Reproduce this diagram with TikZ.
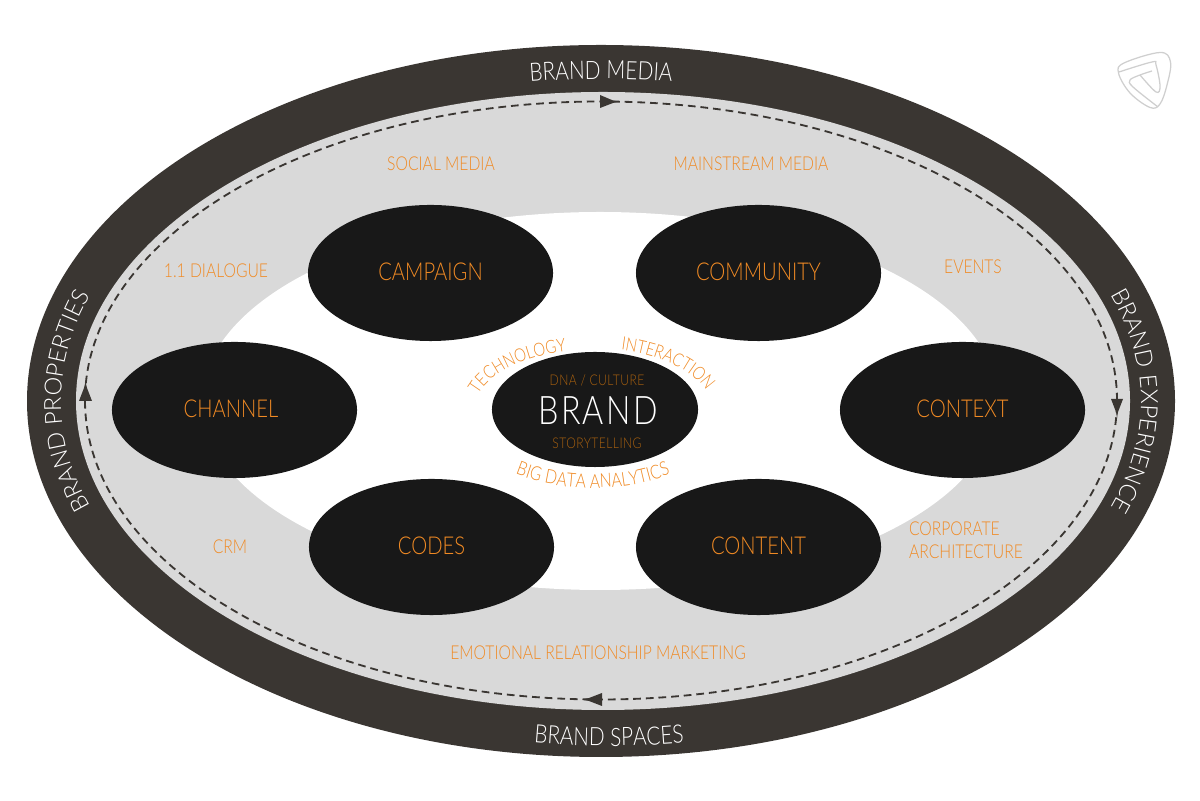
\documentclass[tikz,border=0pt]{standalone}
\usepackage{fontspec}
\setmainfont{Lato}[UprightFont=* Light, FakeStretch=0.82]
\newfontfamily\sidefam{Lato}[UprightFont=* Light]
\usetikzlibrary{shapes.geometric,decorations.text}
\definecolor{bandcol}{HTML}{3A3632}
\definecolor{ringcol}{HTML}{D9D9D9}
\definecolor{blobcol}{HTML}{181818}
\definecolor{orangecol}{HTML}{F08A24}
\definecolor{browncol}{HTML}{A9610F}
\definecolor{logocol}{HTML}{CFCFCF}
\newcommand{\bandfont}{\fontsize{18}{20}\selectfont}
\newcommand{\sidefont}{\sidefam\fontsize{16.8}{20}\selectfont}
\newcommand{\smallfont}{\fontsize{13.6}{16.6}\selectfont}
\tikzset{
    blob/.style={ellipse, fill=blobcol, inner sep=0pt, text=orangecol, text depth=1.4pt, minimum width=6.125cm, minimum height=3.4cm, font=\fontsize{17.5}{20}\selectfont},
    tag/.style={text=orangecol, inner sep=0pt, font=\smallfont},
    dimtag/.style={text=browncol, inner sep=0pt, font=\fontsize{10.5}{12}\selectfont\addfontfeature{LetterSpace=3}},
    bandtext/.style={decorate, decoration={text along path, text align=center, text={|\color{white}\bandfont|#1}}},
    sidetext/.style={decorate, decoration={text along path, text align=center, text={|\color{white}\sidefont|#1}}},
    arctext/.style={decorate, decoration={text along path, text align=center, text={|\color{orangecol}\fontsize{13}{16}\selectfont|#1}}},
    arcwide/.style={decorate, decoration={text along path, text align=center, text={|\color{orangecol}\fontsize{13.7}{16}\selectfont|#1}}},
}
\begin{document}
\begin{tikzpicture}[x=0.025cm, y=0.025cm]
    \useasboundingbox (0,0) rectangle (1200,800);
    % rings
    \fill[bandcol] (601,399) ellipse [x radius=574, y radius=356];
    \fill[ringcol] (603,399) ellipse [x radius=527, y radius=309];
    \fill[white] (600,399) ellipse [x radius=398, y radius=189];
    \draw[bandcol, line width=1.3pt, dash pattern=on 5.5pt off 3.5pt] (601,399.5) ellipse [x radius=516, y radius=299];
    % arrow marks
    \fill[bandcol] (600,705) -- (613,699.5) -- (618,698.5) -- (613,697) -- (600,692) -- cycle;
    \fill[bandcol] (1111,401) -- (1123,401) -- (1118,388) -- (1117,382) -- (1116,388) -- cycle;
    \fill[bandcol] (602,107) -- (602,94) -- (589,99) -- (582,100.5) -- (589,102) -- cycle;
    \fill[bandcol] (79,399) -- (92,399) -- (87,412) -- (85.5,418) -- (84,412) -- cycle;
    % band titles
    \path[bandtext=BRAND MEDIA] (601,399) ++(100:540 and 322) arc [start angle=100, end angle=80, x radius=540, y radius=322];
    \path[sidetext=BRAND EXPERIENCE] (601,399) ++(30:540 and 322) arc [start angle=30, end angle=-30, x radius=540, y radius=322];
    \path[bandtext=BRAND SPACES] (609,399) ++(260:540 and 345) arc [start angle=260, end angle=280, x radius=540, y radius=345];
    \path[sidetext=BRAND PROPERTIES] (601,399) ++(210:540 and 322) arc [start angle=210, end angle=150, x radius=540, y radius=322];
    % outer blobs
    \node[blob] (campaign) at (430.5,527) {CAMPAIGN};
    \node[blob] (community) at (758.5,527) {COMMUNITY};
    \node[blob] (channel) at (234.5,390) {CHANNEL\kern5pt};
    \node[blob] (context) at (962.5,390) {CONTEXT};
    \node[blob] (codes) at (431.5,253) {CODES};
    \node[blob] (content) at (758.5,253) {CONTENT};
    % middle
    \node[ellipse, fill=blobcol, inner sep=0pt, minimum width=5.15cm, minimum height=2.875cm] (brand) at (595,390.5) {};
    \node[text=white, inner sep=0pt, font=\fontsize{28}{32}\selectfont\addfontfeature{LetterSpace=6}] (brandname) at (598,389) {BRAND};
    \node[dimtag] (dna) at (597,420) {DNA / CULTURE};
    \node[dimtag] (story) at (597,357) {STORYTELLING};
    \path[arctext=TECHNOLOGY] (599,390) ++(175:125 and 61) arc [start angle=175, end angle=100, x radius=125, y radius=61];
    \path[arctext=INTERACTION] (592,390) ++(82:120 and 62) arc [start angle=82, end angle=7, x radius=120, y radius=62];
    \path[arcwide=BIG DATA ANALYTICS] (593,390) ++(215:135 and 78) arc [start angle=215, end angle=325, x radius=135, y radius=78];
    % ring labels
    \node[tag] (social) at (441,636) {SOCIAL MEDIA};
    \node[tag] (mainstream) at (751,636) {MAINSTREAM MEDIA};
    \node[tag] (dialogue) at (216,529) {1.1 DIALOGUE};
    \node[tag] (events) at (973,533) {EVENTS};
    \node[tag] (crm) at (230,253) {CRM};
    \node[tag, align=left] (corporate) at (966,260) {CORPORATE\\ARCHITECTURE};
    \node[tag] (emotional) at (598,147) {EMOTIONAL RELATIONSHIP MARKETING};
    % logo
    \draw[logocol, line width=0.9pt] plot[smooth cycle, tension=0.6] coordinates {(1118.5,727) (1124,737) (1160,747.5) (1170.5,738) (1167,715) (1160,696) (1150,692.5) (1130,707)};
    \draw[logocol, line width=0.9pt] plot[smooth, tension=0.6] coordinates {(1119,728) (1152,738) (1156,735) (1160,714) (1156,708) (1140,725)};
    \draw[logocol, line width=0.9pt] plot[smooth, tension=0.6] coordinates {(1152,729) (1140,725) (1130,720) (1133,713) (1158,693)};
\end{tikzpicture}
\end{document}
